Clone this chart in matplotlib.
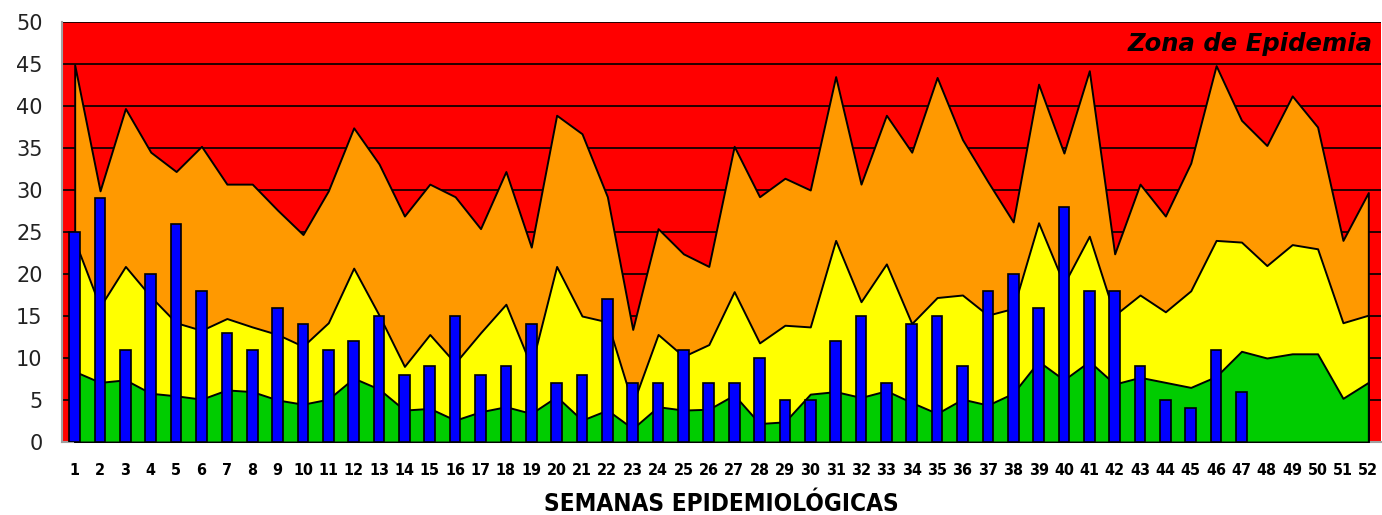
# Canal endemico - semanas epidemiologicas
import numpy as np
import matplotlib.pyplot as plt

# semanas y umbrales (limites superiores de cada zona)
semanas = list(range(1, 53))
exito = [8.4, 7.1, 7.4, 5.8, 5.5, 5.1, 6.2, 6.0, 5.0, 4.5,
         5.1, 7.6, 6.3, 3.8, 4.0, 2.6, 3.6, 4.2, 3.4, 5.4,
         2.6, 3.8, 1.6, 4.2, 3.8, 3.9, 5.6, 2.2, 2.4, 5.7,
         6.0, 5.3, 6.1, 4.7, 3.4, 5.1, 4.4, 5.8, 9.6, 7.4,
         9.6, 6.9, 7.7, 7.1, 6.5, 7.8, 10.8, 10.0, 10.5, 10.5,
         5.2, 7.1]
seguridad = [24.0, 16.1, 20.9, 17.3, 14.2, 13.3, 14.7, 13.7, 12.8, 11.4,
             14.2, 20.7, 15.1, 9.0, 12.8, 9.4, 13.0, 16.4, 9.0, 20.9,
             15.0, 14.3, 4.5, 12.8, 10.2, 11.6, 17.9, 11.8, 13.9, 13.7,
             24.0, 16.7, 21.2, 14.1, 17.2, 17.5, 15.1, 15.9, 26.1, 18.8,
             24.5, 15.1, 17.5, 15.5, 18.0, 24.0, 23.8, 21.0, 23.5, 23.0,
             14.2, 15.1]
alarma = [44.9, 29.9, 39.7, 34.5, 32.2, 35.2, 30.7, 30.7, 27.6, 24.7,
          29.9, 37.4, 33.1, 26.9, 30.7, 29.2, 25.4, 32.2, 23.2, 38.9,
          36.7, 29.2, 13.4, 25.4, 22.4, 20.9, 35.2, 29.2, 31.4, 30.0,
          43.5, 30.7, 38.9, 34.5, 43.4, 36.0, 31.0, 26.2, 42.6, 34.4,
          44.2, 22.4, 30.7, 26.9, 33.2, 44.8, 38.3, 35.3, 41.2, 37.5,
          24.0, 29.7]

# casos notificados (semanas 1 a 47)
casos = [25, 29, 11, 20, 26, 18, 13, 11, 16, 14,
         11, 12, 15, 8, 9, 15, 8, 9, 14, 7,
         8, 17, 7, 7, 11, 7, 7, 10, 5, 5,
         12, 15, 7, 14, 15, 9, 18, 20, 16, 28,
         18, 18, 9, 5, 4, 11, 6]

x = np.array(semanas)
fig = plt.figure(figsize=(13.82, 5.15), dpi=100)
ax = fig.add_axes([62/1382, 1 - 442/515, 1319/1382, 420/515])
ax.set_facecolor('#FF0000')

# zonas apiladas
ax.fill_between(x, alarma, 0, facecolor='#FF9900', edgecolor='black', lw=1.4, zorder=2)
ax.fill_between(x, seguridad, 0, facecolor='#FFFF00', edgecolor='black', lw=1.4, zorder=3)
ax.fill_between(x, exito, 0, facecolor='#00CC00', edgecolor='black', lw=1.4, zorder=4)

# barras de casos
ax.bar(semanas[:len(casos)], casos, width=0.42, color='#0000FF',
       edgecolor='black', lw=1.2, zorder=5)

ax.set_xlim(0.5, 52.5)
ax.set_ylim(0, 50)
ax.set_yticks(range(0, 51, 5))
ax.set_xticks(semanas)
ax.yaxis.grid(True, color='black', lw=1.2, zorder=1)
ax.set_axisbelow(True)

for s in ['top', 'right']:
    ax.spines[s].set_visible(False)
for s in ['left', 'bottom']:
    ax.spines[s].set_color('#A0A0A0')
    ax.spines[s].set_linewidth(1.5)

ax.tick_params(axis='y', length=0, pad=14, labelsize=15, labelcolor='#222222')
ax.tick_params(axis='x', length=0, pad=15)
for lab in ax.get_xticklabels():
    lab.set_fontweight('bold')
    lab.set_fontstretch('condensed')
    lab.set_fontsize(11.5)

ax.set_xlabel('SEMANAS EPIDEMIOLÓGICAS', fontsize=17.5, fontweight='bold',
              fontstretch='condensed', labelpad=10)

ax.text(0.994, 0.975, 'Zona de Epidemia', transform=ax.transAxes, ha='right', va='top',
        fontsize=17.5, fontweight='bold', fontstyle='italic', zorder=6)

fig.savefig('out.png', dpi=100)
